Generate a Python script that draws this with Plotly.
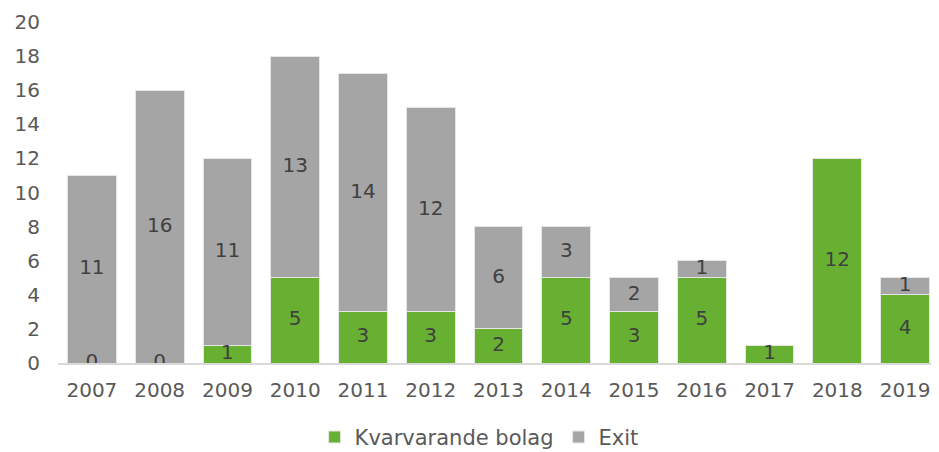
import plotly.graph_objects as go

years = ["2007", "2008", "2009", "2010", "2011", "2012", "2013",
         "2014", "2015", "2016", "2017", "2018", "2019"]
kvarvarande = [0, 0, 1, 5, 3, 3, 2, 5, 3, 5, 1, 12, 4]
exit_vals = [11, 16, 11, 13, 14, 12, 6, 3, 2, 1, None, None, 1]
y_ticks = [0, 2, 4, 6, 8, 10, 12, 14, 16, 18, 20]

GREEN = "#67B032"
GRAY = "#A5A5A5"
FONT = "DejaVu Sans"

fig = go.Figure()
fig.add_trace(go.Bar(x=years, y=kvarvarande, name="Kvarvarande bolag",
                     marker=dict(color=GREEN, line=dict(color="#e6e6e6", width=1))))
fig.add_trace(go.Bar(x=years, y=[v if v is not None else 0 for v in exit_vals], name="Exit",
                     marker=dict(color=GRAY, line=dict(color="#e6e6e6", width=1))))

# labels at segment midpoints
lab_x, lab_y, lab_t = [], [], []
for yr, k, e in zip(years, kvarvarande, exit_vals):
    lab_x.append(yr); lab_y.append(k / 2); lab_t.append(str(k))
    if e is not None:
        lab_x.append(yr); lab_y.append(k + e / 2); lab_t.append(str(e))
fig.add_trace(go.Scatter(x=lab_x, y=lab_y, text=lab_t, mode="text",
                         textfont=dict(family=FONT, size=20, color="#404040"),
                         showlegend=False, hoverinfo="skip"))

# page body has an 8px margin; size the figure to fit the 939x452 window
fig.update_layout(
    width=931, height=444,
    barmode="stack", bargap=0.28,
    paper_bgcolor="white", plot_bgcolor="white",
    margin=dict(l=50, r=0, t=14, b=89, autoexpand=False),
    font=dict(family=FONT, size=20, color="#595959"),
    legend=dict(orientation="h", x=0.478, xanchor="center",
                yref="container", y=0.033, yanchor="middle",
                font=dict(family=FONT, size=21, color="#595959"),
                traceorder="normal"),
    xaxis=dict(showline=True, linecolor="#d9d9d9", linewidth=2, ticks="",
               range=[-0.5, len(years) - 0.5],
               tickfont=dict(family=FONT, size=20, color="#595959"),
               ticklabelstandoff=8, automargin=False),
    yaxis=dict(range=[0, 20], tickvals=y_ticks, showgrid=False, zeroline=False,
               showline=False, ticks="",
               tickfont=dict(family=FONT, size=20, color="#595959"),
               ticklabelstandoff=17, automargin=False),
)

fig.write_html("out.html")
